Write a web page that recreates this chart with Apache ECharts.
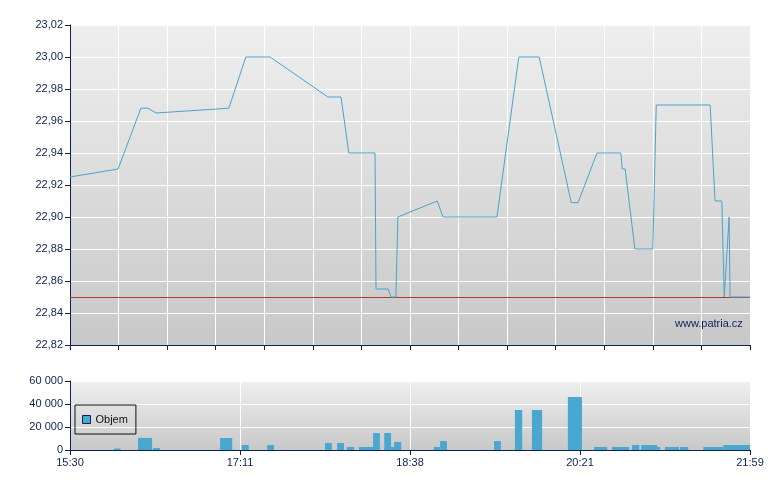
<!DOCTYPE html>
<html>
<head>
<meta charset="utf-8">
<script src="https://cdn.jsdelivr.net/npm/echarts@6/dist/echarts.min.js"></script>
<style>
html,body{margin:0;padding:0;background:#fff;}
#c{width:780px;height:490px;}
</style>
</head>
<body>
<div id="c"></div>
<script>
// x positions on a 0..14 session scale (14 grid divisions)
var priceX = [0, 0.99, 1.46, 1.61, 1.77, 3.27, 3.62, 4.12, 5.31, 5.58, 5.74, 6.28, 6.30, 6.55, 6.61, 6.71, 6.75, 7.56, 7.68, 8.79, 9.24, 9.66, 10.32, 10.46, 10.85, 11.34, 11.37, 11.43, 11.63, 12.00, 12.07, 13.18, 13.28, 13.42, 13.47, 13.57, 13.59, 14];
var priceY = [22.925, 22.93, 22.968, 22.968, 22.965, 22.968, 23.00, 23.00, 22.975, 22.975, 22.94, 22.94, 22.855, 22.855, 22.85, 22.85, 22.90, 22.91, 22.90, 22.90, 23.00, 23.00, 22.909, 22.909, 22.94, 22.94, 22.93, 22.93, 22.88, 22.88, 22.97, 22.97, 22.91, 22.91, 22.85, 22.90, 22.85, 22.85];
var refPrice = 22.85;

var volStart = [0.91, 1.40, 1.71, 3.09, 3.54, 4.06, 5.25, 5.50, 5.70, 5.95, 6.24, 6.47, 6.61, 6.67, 7.49, 7.62, 8.73, 9.16, 9.51, 10.25, 10.79, 11.16, 11.57, 11.76, 12.09, 12.25, 12.56, 13.04, 13.45];
var volEnd   = [1.04, 1.69, 1.85, 3.34, 3.68, 4.20, 5.39, 5.64, 5.85, 6.24, 6.38, 6.61, 6.67, 6.82, 7.62, 7.76, 8.87, 9.31, 9.72, 10.54, 11.06, 11.51, 11.72, 12.09, 12.15, 12.54, 12.73, 13.45, 14.00];
var volValue = [1300, 10500, 1700, 10400, 4300, 4300, 6100, 6100, 2600, 2600, 14800, 14800, 2600, 7000, 2600, 7800, 7800, 34800, 34800, 46100, 2600, 2600, 4300, 4300, 2600, 2600, 2600, 2600, 4300];

var xTickLabels = ['15:30', '17:11', '18:38', '20:21', '21:59'];
var seriesName = 'Objem';
var watermark = 'www.patria.cz';

var navy = '#0b2353';
var font = 'Liberation Sans, Arial, sans-serif';

function bgGrad() {
  return new echarts.graphic.LinearGradient(0, 0, 0, 1, [
    {offset: 0, color: '#efefef'},
    {offset: 1, color: '#c8c8c8'}
  ]);
}

var priceData = priceX.map(function (x, i) { return [x, priceY[i]]; });
var volData = volStart.map(function (s, i) { return [s, volEnd[i], volValue[i]]; });

var chart = echarts.init(document.getElementById('c'), null, {renderer: 'canvas'});
chart.setOption({
  animation: false,
  backgroundColor: '#ffffff',
  textStyle: {fontFamily: font},
  grid: [
    {left: 70, width: 680, top: 25, height: 320, show: true, backgroundColor: bgGrad(), borderWidth: 0},
    {left: 70, width: 680, top: 381, height: 69, show: true, backgroundColor: bgGrad(), borderWidth: 0}
  ],
  legend: {
    data: [seriesName],
    left: 75, top: 405,
    orient: 'horizontal',
    borderColor: '#111',
    borderWidth: 1,
    borderRadius: 0,
    padding: [9, 8, 9, 7],
    itemWidth: 8, itemHeight: 8, itemGap: 4,
    icon: 'rect',
    itemStyle: {borderColor: navy, borderWidth: 1},
    textStyle: {color: '#111', fontSize: 11, fontFamily: font, padding: [0, 0, 0, 0]}
  },
  xAxis: [
    {
      type: 'value', gridIndex: 0, min: 0, max: 14, interval: 1,
      axisLine: {show: true, lineStyle: {color: navy, width: 1}},
      axisTick: {show: true, length: 5, lineStyle: {color: navy}},
      axisLabel: {show: false},
      splitLine: {show: true, lineStyle: {color: '#ffffff', width: 1}}
    },
    {
      type: 'value', gridIndex: 1, min: 0, max: 14, interval: 3.5,
      axisLine: {show: true, lineStyle: {color: navy, width: 1}},
      axisTick: {show: true, length: 5, lineStyle: {color: navy}},
      axisLabel: {
        show: true, color: navy, fontSize: 11, fontFamily: font, margin: 7,
        formatter: function (v) { return xTickLabels[Math.round(v / 3.5)]; }
      },
      splitLine: {show: true, lineStyle: {color: '#ffffff', width: 1}}
    }
  ],
  yAxis: [
    {
      type: 'value', gridIndex: 0, min: 22.82, max: 23.02, interval: 0.02,
      axisLine: {show: true, lineStyle: {color: navy, width: 1}},
      axisTick: {show: true, length: 5, lineStyle: {color: navy}},
      axisLabel: {
        color: navy, fontSize: 11, fontFamily: font, margin: 7,
        formatter: function (v) { return v.toFixed(2).replace('.', ','); }
      },
      splitLine: {show: true, lineStyle: {color: '#ffffff', width: 1}}
    },
    {
      type: 'value', gridIndex: 1, min: 0, max: 60000, interval: 20000,
      axisLine: {show: true, lineStyle: {color: navy, width: 1}},
      axisTick: {show: true, length: 5, lineStyle: {color: navy}},
      axisLabel: {
        color: navy, fontSize: 11, fontFamily: font, margin: 7,
        formatter: function (v) { return String(Math.round(v)).replace(/\B(?=(\d{3})+(?!\d))/g, ' '); }
      },
      splitLine: {show: true, lineStyle: {color: '#ffffff', width: 1}}
    }
  ],
  series: [
    {
      type: 'line', name: 'Cena', xAxisIndex: 0, yAxisIndex: 0,
      data: priceData, symbol: 'none', z: 5,
      lineStyle: {color: '#4aa3cc', width: 1},
      markLine: {
        silent: true, symbol: ['none', 'none'], label: {show: false},
        lineStyle: {color: '#b5382c', width: 1, type: 'solid'},
        data: [{yAxis: refPrice}],
        z: 3
      }
    },
    {
      type: 'custom', name: seriesName, xAxisIndex: 1, yAxisIndex: 1,
      data: volData,
      encode: {x: [0, 1], y: 2},
      itemStyle: {color: '#4aa7d0'},
      renderItem: function (params, api) {
        var p0 = api.coord([api.value(0), api.value(2)]);
        var p1 = api.coord([api.value(1), 0]);
        return {
          type: 'rect',
          shape: {x: p0[0], y: p0[1], width: p1[0] - p0[0], height: p1[1] - p0[1]},
          style: {fill: '#4aa7d0'}
        };
      }
    }
  ],
  graphic: [
    {
      type: 'text', left: 675, top: 318, z: 10,
      style: {text: watermark, fill: navy, fontSize: 11, fontFamily: font}
    }
  ]
});
</script>
</body>
</html>
